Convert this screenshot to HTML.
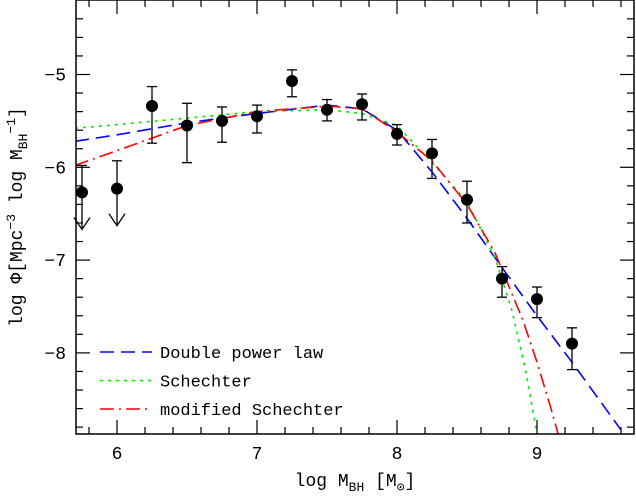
<!DOCTYPE html>
<html><head><meta charset="utf-8"><style>
body{margin:0;background:#fff}
text{font-family:"Liberation Mono","DejaVu Sans Mono",monospace;fill:#000}
</style></head><body>
<svg id="chart" width="636" height="491" viewBox="0 0 636 491" xmlns="http://www.w3.org/2000/svg">
<g id="curves"></g>
<g id="points"></g>
<g id="axes"></g>
<g id="legend"></g>
<text x="355" y="486" font-size="18" text-anchor="middle">log M<tspan font-size="13" dy="5">BH</tspan><tspan dy="-5"> [M</tspan><tspan font-size="13" dy="5">⊙</tspan><tspan dy="-5">]</tspan></text>
<text transform="translate(22,217) rotate(-90)" font-size="18" text-anchor="middle">log Φ[Mpc<tspan font-size="13" dy="-7">−3</tspan><tspan dy="7"> log M</tspan><tspan font-size="13" dy="5">BH</tspan><tspan font-size="13" dy="-12">−1</tspan><tspan dy="7">]</tspan></text>
</svg>
<script>
const massBins=[5.75,6.0,6.25,6.5,6.75,7.0,7.25,7.5,7.75,8.0,8.25,8.5,8.75,9.0,9.25];
const phiValues=[-6.27,-6.23,-5.34,-5.55,-5.5,-5.45,-5.07,-5.38,-5.32,-5.64,-5.85,-6.35,-7.2,-7.42,-7.9];
const errUp=[0.29,0.3,0.21,0.24,0.15,0.12,0.12,0.11,0.11,0.1,0.15,0.2,0.13,0.13,0.17];
const errDown=[0,0,0.4,0.4,0.23,0.18,0.17,0.12,0.17,0.12,0.27,0.25,0.2,0.2,0.28];
const upperLimit=[true,true,false,false,false,false,false,false,false,false,false,false,false,false,false];
const dplX=[5.7,6.0,6.5,7.0,7.5,7.75,8.0,8.25,8.5,8.75,9.0,9.25,9.6];
const dplY=[-5.72,-5.65,-5.52,-5.42,-5.33,-5.37,-5.6,-6.05,-6.55,-7.08,-7.6,-8.1,-8.83];
const schX=[5.7,6.0,6.5,7.0,7.5,7.75,8.0,8.25,8.5,8.7,8.82,8.92,9.0];
const schY=[-5.58,-5.54,-5.47,-5.4,-5.38,-5.42,-5.55,-5.95,-6.37,-6.97,-7.54,-8.2,-8.87];
const modX=[5.7,6.0,6.5,7.0,7.5,7.75,8.0,8.25,8.5,8.7,8.9,9.0,9.1,9.15];
const modY=[-5.98,-5.82,-5.55,-5.4,-5.34,-5.37,-5.62,-5.93,-6.4,-6.92,-7.65,-8.1,-8.6,-8.87];
const xTicks=[6,7,8,9];
const yTicks=[-5,-6,-7,-8];
const legendLabels=["Double power law","Schechter","modified Schechter"];

const L=76,R=634,T=0,B=434;
const X=v=>397+(v-8)*140;
const Y=v=>74.5+(-5-v)*92.8;
const NS="http://www.w3.org/2000/svg";
function mk(tag,parent,attrs){const e=document.createElementNS(NS,tag);for(const k in attrs)e.setAttribute(k,attrs[k]);parent.appendChild(e);return e;}
const cg=document.getElementById('curves'),pg=document.getElementById('points'),ag=document.getElementById('axes'),lg=document.getElementById('legend');
const clip=mk('clipPath',document.getElementById('chart'),{id:'pc'});mk('rect',clip,{x:L,y:T,width:R-L,height:B-T});
cg.setAttribute('clip-path','url(#pc)');
const styles=[{c:'#0000ff',d:'14,7'},{c:'#00ee00',d:'3,5'},{c:'#ff0000',d:'14,5,2,5'}];
[[dplX,dplY],[schX,schY],[modX,modY]].forEach((s,i)=>{
 const p=mk('polyline',cg,{points:s[0].map((x,j)=>X(x)+','+Y(s[1][j])).join(' '),fill:'none',stroke:styles[i].c,'stroke-width':1.6,'stroke-dasharray':styles[i].d});
 
 
});
massBins.forEach((m,i)=>{
 const x=X(m),y=Y(phiValues[i]);
 const g=mk('g',pg,{stroke:'#000','stroke-width':1.3,fill:'none'});
 
 
 const yt=Y(phiValues[i]+errUp[i]);
 mk('line',g,{x1:x,y1:yt,x2:x,y2:y});mk('line',g,{x1:x-5,y1:yt,x2:x+5,y2:yt});
 if(upperLimit[i]){const ya=Y(phiValues[i]-0.4);mk('line',g,{x1:x,y1:y,x2:x,y2:ya});mk('polyline',g,{points:`${x-8},${ya-12} ${x},${ya} ${x+8},${ya-12}`});}
 else{const yb=Y(phiValues[i]-errDown[i]);mk('line',g,{x1:x,y1:y,x2:x,y2:yb});mk('line',g,{x1:x-5,y1:yb,x2:x+5,y2:yb});}
 mk('circle',pg,{cx:x,cy:y,r:6,fill:'#000'});
});
mk('rect',ag,{x:L,y:T,width:R-L,height:B-T,fill:'none',stroke:'#000','stroke-width':1.5});
for(let k=0;k<=24;k++){const v=5.6+k*0.2,x=X(v);if(x<=L+1||x>=R-1)continue;const major=Math.abs(v-Math.round(v))<1e-6,len=major?14:7;
 mk('line',ag,{x1:x,y1:B,x2:x,y2:B-len,stroke:'#000','stroke-width':1.2});mk('line',ag,{x1:x,y1:T,x2:x,y2:T+len,stroke:'#000','stroke-width':1.2});}
for(let k=0;k<=30;k++){const v=-9+k*0.2,y=Y(v);if(y<=T+1||y>=B-1)continue;const major=Math.abs(v-Math.round(v))<1e-6,len=major?14:7;
 mk('line',ag,{x1:L,y1:y,x2:L+len,y2:y,stroke:'#000','stroke-width':1.2});mk('line',ag,{x1:R,y1:y,x2:R-len,y2:y,stroke:'#000','stroke-width':1.2});}
xTicks.forEach(v=>{const t=mk('text',ag,{x:X(v),y:B+25,'font-size':18,'text-anchor':'middle'});t.textContent=v;});
yTicks.forEach(v=>{const t=mk('text',ag,{x:L-10,y:Y(v)+6,'font-size':18,'text-anchor':'end'});t.textContent='−'+Math.abs(v);});
legendLabels.forEach((lab,i)=>{const y=352+i*28.5;
 const g=mk('g',lg,{});
 mk('line',g,{x1:100,y1:y,x2:152,y2:y,stroke:styles[i].c,'stroke-width':1.6,'stroke-dasharray':styles[i].d});
 const t=mk('text',g,{x:160,y:y+6,'font-size':17});t.textContent=lab;});
</script>
</body></html>
